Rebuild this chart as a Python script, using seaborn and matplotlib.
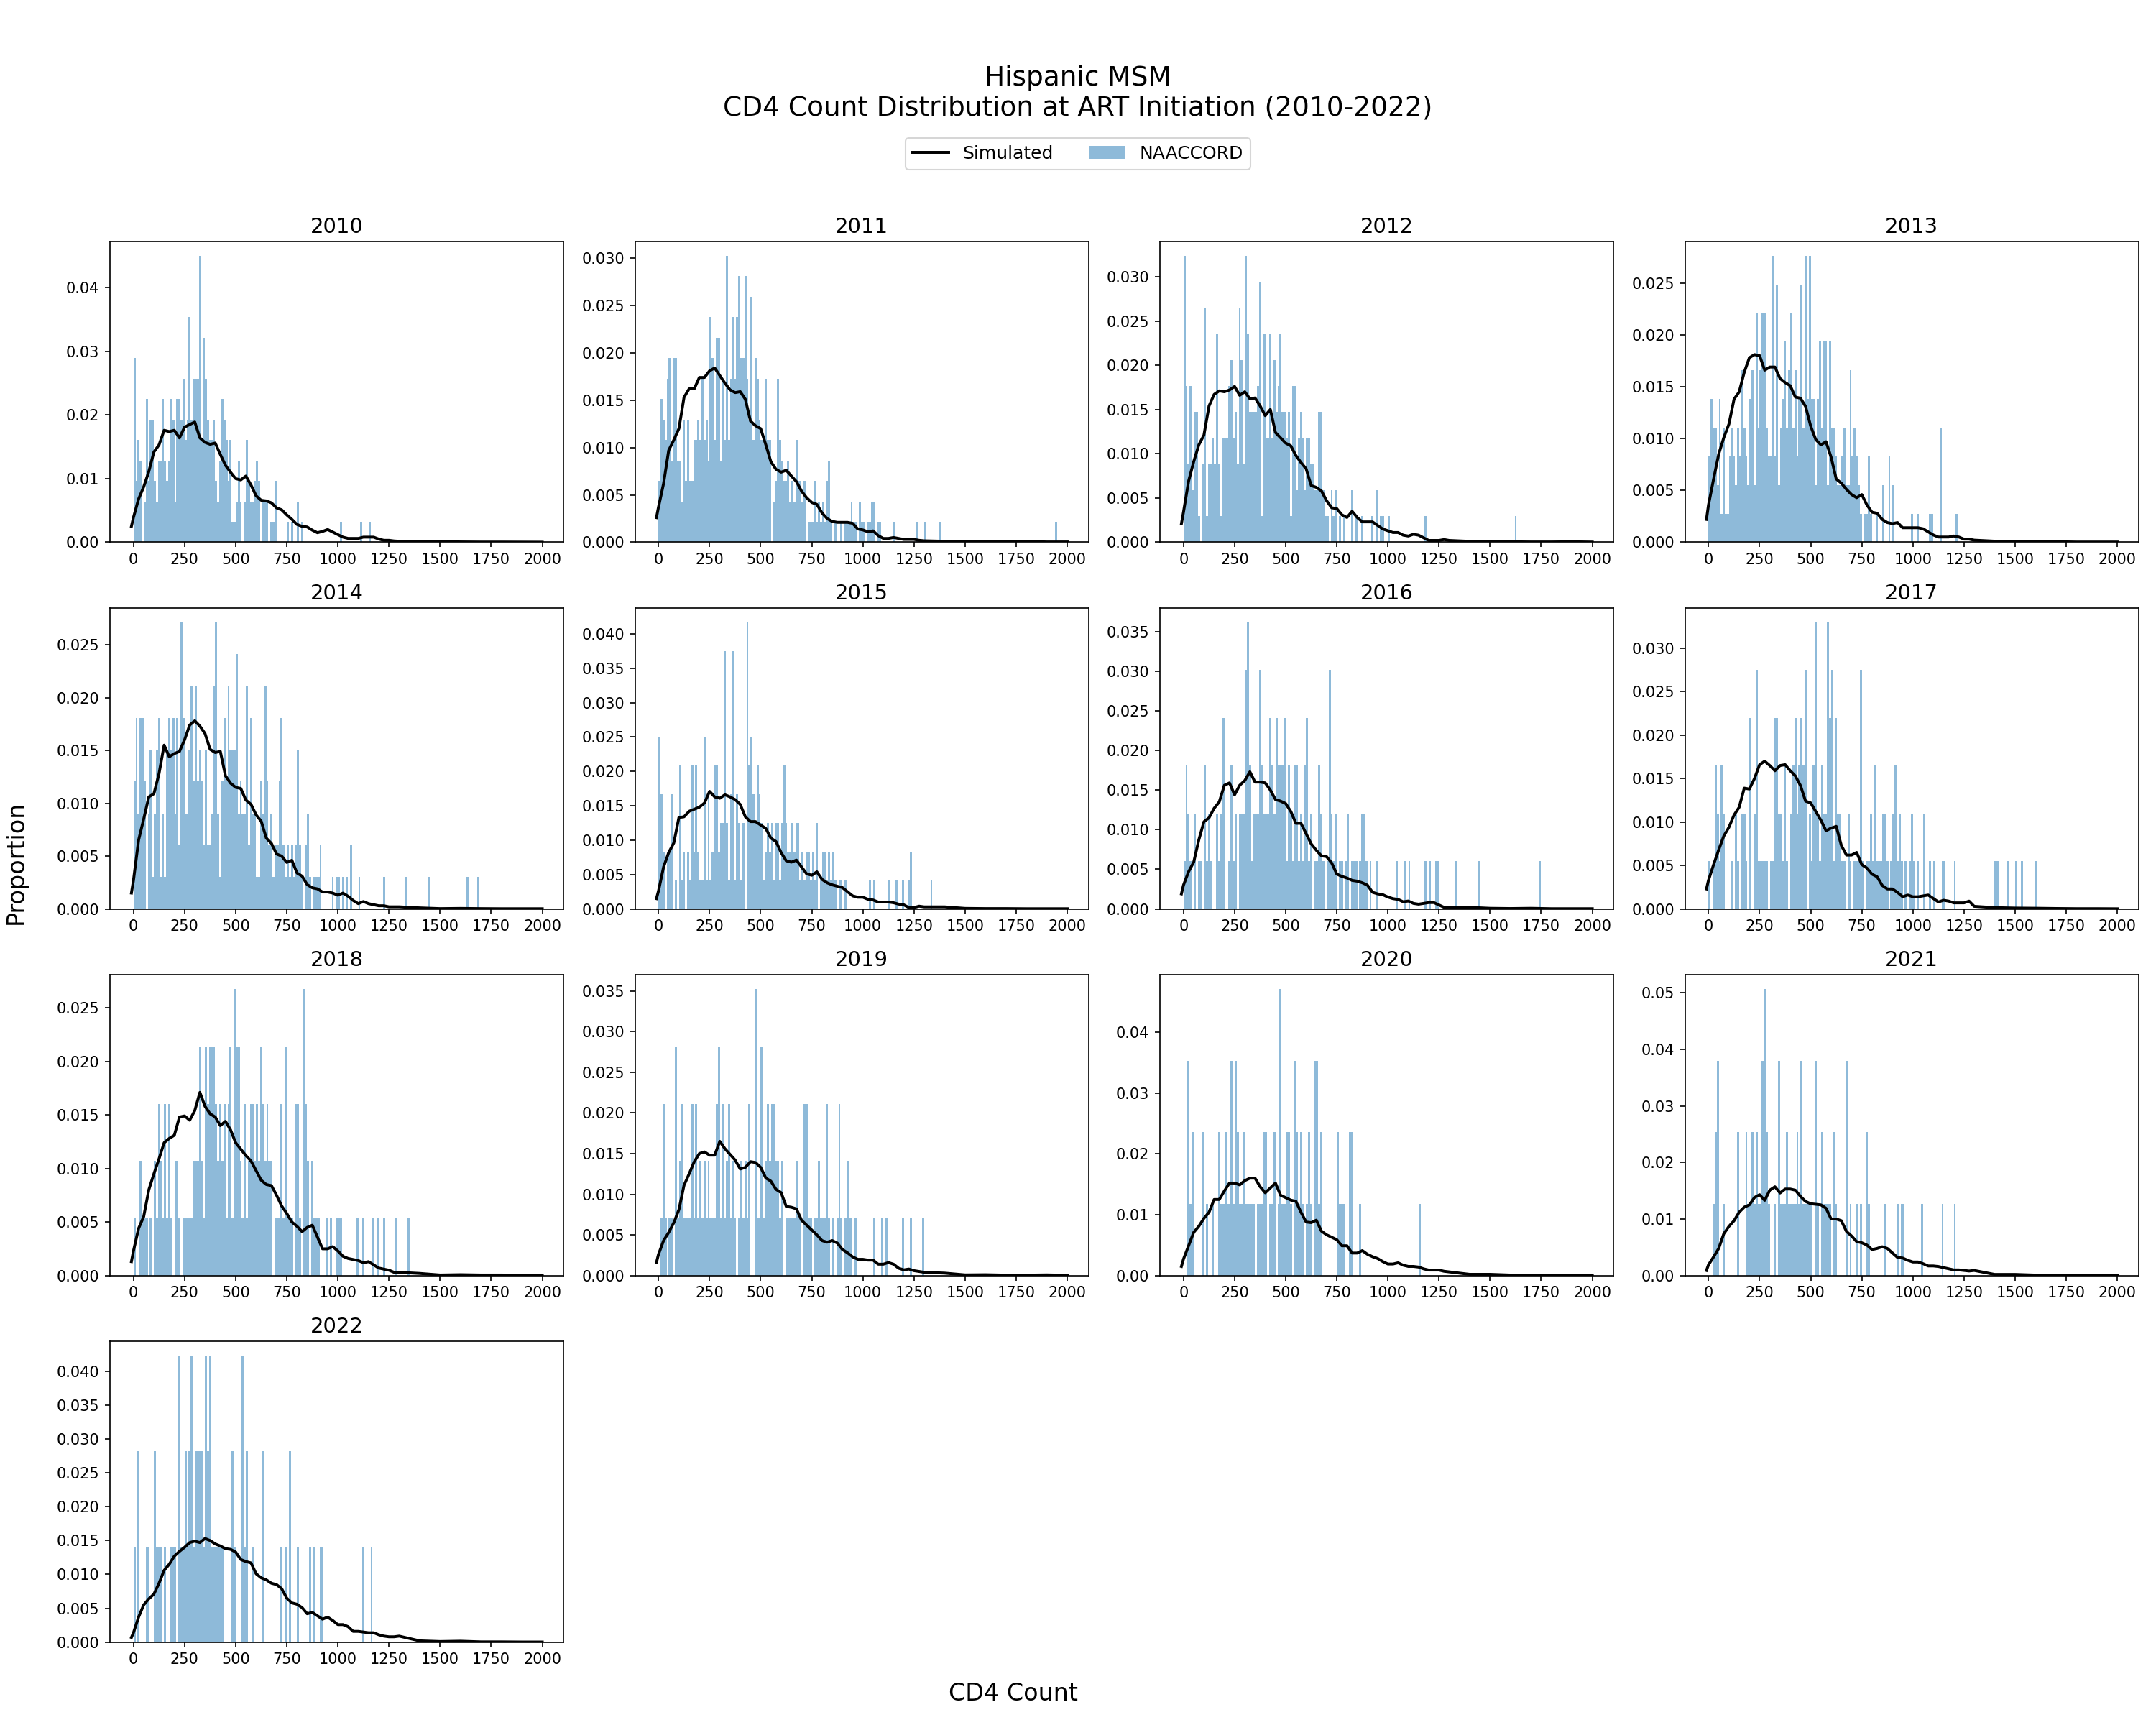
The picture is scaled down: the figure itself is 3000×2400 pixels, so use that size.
import numpy as np
import pandas as pd
import matplotlib
matplotlib.use("Agg")
import matplotlib.pyplot as plt
import seaborn as sns
from matplotlib.lines import Line2D
from matplotlib.patches import Patch

years = [2010, 2011, 2012, 2013, 2014, 2015, 2016, 2017, 2018, 2019, 2020, 2021, 2022]

# NAACCORD: patients per 10-cell CD4 bin (bin k covers 10k..10k+10)
naaccord_n = {2010: 311, 2011: 463, 2012: 340, 2013: 362, 2014: 332, 2015: 240, 2016: 166,
              2017: 182, 2018: 187, 2019: 142, 2020: 85, 2021: 79, 2022: 71}

naaccord_counts = {
    2010: [9, 3, 5, 4, 0, 2, 7, 3, 6, 6, 3, 2, 4, 4, 7, 4, 3, 4, 7, 6,
           2, 7, 7, 6, 8, 5, 6, 11, 6, 8, 8, 8, 14, 5, 10, 8, 6, 5, 5, 6,
           3, 2, 4, 7, 6, 5, 3, 5, 1, 1, 2, 4, 2, 0, 2, 5, 3, 2, 2, 3,
           4, 3, 0, 2, 2, 2, 0, 1, 1, 3],
    2011: [3, 7, 6, 5, 8, 9, 4, 9, 9, 4, 4, 2, 6, 3, 6, 3, 3, 5, 5, 6,
           5, 8, 5, 6, 4, 11, 9, 5, 10, 10, 4, 8, 5, 14, 5, 8, 11, 8, 11, 13,
           9, 9, 13, 8, 6, 12, 5, 9, 8, 6, 5, 5, 8, 5, 5, 0, 2, 3, 8, 5,
           4, 3, 3, 4, 2, 3, 2, 5, 3, 3, 2, 3, 0, 1, 1, 1, 3, 1, 2, 1,
           2, 1, 3, 4, 1, 0, 1, 0, 0, 1, 0, 1, 1, 1, 2, 1, 1, 0, 2, 1,
           1, 0, 1, 1, 2, 2, 0, 1],
    2012: [11, 6, 3, 6, 2, 5, 5, 1, 0, 3, 9, 1, 3, 3, 4, 3, 8, 3, 1, 4,
           4, 4, 6, 7, 4, 5, 3, 9, 7, 3, 11, 8, 5, 5, 5, 5, 6, 10, 1, 8,
           4, 4, 8, 4, 7, 5, 6, 8, 5, 5, 4, 5, 1, 6, 6, 2, 4, 5, 4, 2,
           4, 4, 3, 3, 2, 2, 5, 5, 2, 1, 1],
    2013: [3, 5, 4, 4, 2, 5, 1, 4, 1, 1, 3, 4, 3, 2, 4, 3, 6, 4, 3, 2,
           5, 6, 2, 8, 4, 6, 8, 8, 4, 3, 3, 10, 3, 9, 2, 4, 5, 7, 4, 6,
           8, 4, 6, 3, 5, 9, 4, 10, 5, 10, 5, 5, 2, 5, 7, 4, 7, 7, 2, 7,
           4, 4, 3, 2, 2, 3, 4, 2, 2, 6, 3, 4, 3, 2, 1, 0, 1, 1, 3, 1],
    2014: [4, 6, 3, 6, 6, 4, 0, 3, 5, 1, 3, 5, 6, 1, 3, 1, 5, 6, 5, 6,
           3, 6, 2, 9, 6, 3, 3, 5, 7, 4, 7, 4, 5, 4, 2, 5, 2, 2, 3, 7,
           9, 3, 1, 4, 6, 4, 7, 5, 5, 5, 8, 3, 4, 3, 3, 7, 2, 6, 3, 3,
           1, 1, 4, 3, 7, 4, 2, 3, 1, 2, 2, 4, 6, 2, 1, 2, 1, 2, 1, 2,
           5, 2, 1, 0, 2, 3, 1, 0, 1, 1, 1, 2],
    2015: [6, 4, 2, 0, 2, 2, 4, 0, 1, 0, 5, 1, 2, 0, 2, 1, 5, 2, 5, 2,
           1, 1, 6, 1, 4, 1, 2, 5, 5, 2, 3, 3, 9, 3, 1, 4, 9, 1, 4, 3,
           1, 3, 0, 10, 5, 6, 4, 3, 5, 4, 3, 1, 2, 3, 2, 3, 1, 3, 3, 1,
           3, 5, 3, 2, 2, 3, 2, 3, 3, 1, 2, 1, 2, 2, 1, 2, 1, 3, 0, 1,
           2, 2, 1, 2, 1, 2, 1, 0, 1, 1, 0, 1],
    2016: [1, 3, 2, 1, 0, 2, 0, 1, 1, 0, 3, 1, 2, 1, 0, 0, 2, 1, 2, 4,
           0, 0, 1, 3, 1, 2, 0, 2, 2, 2, 5, 6, 3, 1, 2, 2, 2, 5, 3, 2,
           2, 2, 4, 3, 2, 4, 3, 3, 3, 4, 1, 3, 2, 1, 3, 3, 1, 2, 1, 3,
           4, 1, 2, 0, 1, 1, 3, 2, 1, 0, 1, 5, 2, 1, 2, 0, 1, 1, 0, 1,
           2, 0, 1, 1, 1, 0, 1, 2, 2, 1],
    2017: [1, 0, 1, 3, 2, 1, 3, 2, 0, 0, 0, 1, 0, 2, 1, 0, 2, 2, 1, 0,
           4, 0, 2, 5, 1, 1, 1, 1, 1, 0, 1, 1, 4, 4, 2, 2, 1, 3, 1, 0,
           2, 3, 4, 2, 3, 4, 3, 5, 0, 2, 1, 3, 6, 2, 1, 3, 2, 2, 6, 4,
           5, 1, 4, 2, 2, 1, 1, 0, 2, 1, 0, 1, 1, 1, 5, 1, 0, 1, 1, 2,
           1, 3, 1, 1, 1, 2, 2, 1, 0, 1, 2, 3, 1, 2, 1, 0, 1, 0, 1, 2,
           1, 0, 1, 0, 0, 2],
    2018: [1, 0, 0, 2, 1, 1, 1, 0, 1, 0, 2, 1, 3, 2, 1, 3, 1, 3, 1, 0,
           2, 2, 1, 0, 1, 1, 1, 1, 1, 2, 2, 2, 4, 2, 1, 4, 3, 4, 4, 4,
           3, 2, 3, 2, 3, 1, 3, 4, 1, 5, 4, 4, 2, 1, 3, 1, 2, 3, 3, 2,
           3, 2, 4, 3, 2, 3, 2, 2, 0, 1, 1, 1, 3, 1, 4, 1, 1, 1, 0, 3,
           3, 1, 0, 5, 3, 2, 0, 2, 1, 1, 1],
    2019: [0, 1, 3, 1, 0, 1, 1, 0, 4, 1, 2, 3, 1, 1, 1, 1, 3, 1, 3, 1,
           2, 1, 2, 1, 2, 1, 1, 1, 3, 4, 1, 3, 1, 2, 3, 1, 2, 1, 0, 1,
           2, 1, 2, 1, 3, 0, 0, 5, 1, 1, 4, 1, 2, 3, 2, 3, 3, 2, 2, 1,
           2, 0, 1, 1, 1, 1, 1, 2, 1, 1, 0, 3, 3, 1, 1, 0, 1, 1, 2, 1,
           1, 1, 3, 1, 0, 1, 0, 1, 3, 1, 0, 1, 2, 1, 1],
    2020: [0, 0, 3, 1, 2, 0, 0, 0, 0, 2, 0, 1, 0, 0, 1, 0, 0, 2, 1, 1,
           2, 1, 1, 3, 1, 3, 2, 1, 1, 2, 1, 1, 1, 1, 1, 0, 1, 1, 1, 2,
           2, 0, 1, 1, 2, 0, 1, 4, 1, 1, 2, 2, 1, 0, 3, 2, 1, 2, 1, 0,
           1, 2, 1, 0, 3, 3, 1, 2, 0, 0, 0, 0, 0, 0, 0, 2, 1, 1, 1, 0,
           0, 2, 2, 0, 0, 0, 1],
    2021: [0, 0, 1, 2, 3, 0, 0, 1, 0, 0, 0, 0, 0, 0, 2, 0, 0, 0, 2, 1,
           1, 2, 1, 2, 1, 1, 3, 4, 2, 1, 0, 0, 1, 0, 3, 1, 1, 1, 2, 1,
           1, 1, 1, 2, 1, 3, 1, 1, 1, 1, 1, 0, 3, 1, 0, 2, 1, 1, 1, 1,
           0, 2, 1, 0, 0, 0, 0, 3, 0, 1, 0, 0, 1, 0, 1, 0, 0, 2, 1, 0,
           0, 0, 0, 0, 0, 0, 1],
    2022: [1, 0, 2, 0, 0, 0, 1, 1, 0, 0, 2, 1, 1, 1, 0, 1, 0, 0, 1, 1,
           1, 0, 3, 1, 1, 2, 1, 2, 3, 1, 2, 2, 2, 2, 1, 3, 2, 3, 1, 1,
           1, 1, 1, 1, 0, 0, 0, 0, 2, 1, 0, 0, 0, 3, 1, 2, 0, 0, 1, 0,
           0, 0, 0, 2, 0, 0, 0, 0, 0, 0, 0, 0, 1, 0, 1, 0, 2, 0, 0, 0,
           1, 0, 0, 0, 0, 0, 1, 0, 1, 0, 0, 1, 1],
}

# isolated single-patient bars further out (bin index, one entry per patient)
naaccord_tail = {
    2010: [75, 77, 80, 80, 82, 101, 111, 115],
    2011: [108, 115, 126, 130, 137, 194],
    2012: [72, 72, 73, 74, 74, 76, 78, 82, 82, 84, 87, 92, 94, 94, 96, 97, 100, 118, 162],
    2013: [82, 85, 85, 88, 88, 88, 90, 90, 99, 102, 108, 109, 113, 113, 113, 113, 121],
    2014: [97, 99, 100, 102, 104, 106, 106, 110, 122, 133, 144, 163, 168],
    2015: [103, 105, 112, 116, 119, 122, 123, 123, 133],
    2016: [91, 94, 104, 108, 110, 118, 120, 123, 124, 133, 144, 174],
    2017: [108, 110, 114, 115, 120, 140, 141, 146, 150, 153, 160],
    2018: [94, 96, 99, 100, 101, 109, 112, 117, 119, 122, 128, 134],
    2019: [96, 105, 109, 111, 119, 123, 129],
    2020: [115],
    2021: [92, 94, 95, 104, 114, 120],
    2022: [112, 116],
}

# Simulated curve, read at these CD4 values
sim_x = [-10, 0,
         25, 50, 75, 100, 125, 150, 175, 200, 225, 250, 275, 300,
         325, 350, 375, 400, 425, 450, 475, 500, 525, 550, 575, 600,
         625, 650, 675, 700, 725, 750, 775, 800, 825, 850, 875, 900,
         925, 950, 975, 1000, 1025, 1050, 1075, 1100, 1125, 1150, 1175, 1200,
         1225, 1250, 1275, 1300,
         1400, 1500, 1600, 1700, 1800, 1900, 2000]

sim_y = {
    2010: [0.0025, 0.0039,
           0.0068, 0.0087, 0.0111, 0.0142, 0.0153, 0.0176, 0.0174, 0.0176,
           0.0164, 0.0181, 0.0185, 0.0189, 0.0164, 0.0157, 0.0154, 0.0156,
           0.0138, 0.0121, 0.0110, 0.0100, 0.0098, 0.0104, 0.0090, 0.0073,
           0.0066, 0.0065, 0.0062, 0.0054, 0.0051, 0.0043, 0.0036, 0.0028,
           0.0025, 0.0024, 0.0019, 0.0015, 0.0017, 0.0020, 0.0016, 0.0012,
           0.0008, 0.0006, 0.0006, 0.0006, 0.0008, 0.0008, 0.0008, 0.0005,
           0.0003, 0.0003, 0.0002, 0.00015,
           0.0001, 0.0001, 0.00005, 0.00003, 0.00003, 0.00002, 0.00001],
    2011: [0.0026, 0.0037,
           0.0062, 0.0097, 0.0108, 0.0120, 0.0153, 0.0162, 0.0162, 0.0174,
           0.0174, 0.0181, 0.0184, 0.0176, 0.0168, 0.0161, 0.0158, 0.0159,
           0.0151, 0.0128, 0.0123, 0.0120, 0.0103, 0.0085, 0.0077, 0.0074,
           0.0076, 0.0070, 0.0064, 0.0054, 0.0047, 0.0042, 0.0040, 0.0031,
           0.0025, 0.0022, 0.0021, 0.0021, 0.0021, 0.0020, 0.0014, 0.0013,
           0.0011, 0.0012, 0.0007, 0.0004, 0.0004, 0.0005, 0.0004, 0.0003,
           0.0003, 0.0003, 0.0002, 0.00015,
           0.0001, 0.0001, 0.00005, 0.00005, 0.00008, 0.00003, 0.00003],
    2012: [0.0021, 0.0034,
           0.0069, 0.0091, 0.0110, 0.0121, 0.0154, 0.0167, 0.0171, 0.0170,
           0.0172, 0.0176, 0.0166, 0.0170, 0.0162, 0.0163, 0.0154, 0.0143,
           0.0150, 0.0124, 0.0118, 0.0112, 0.0109, 0.0098, 0.0090, 0.0083,
           0.0064, 0.0062, 0.0058, 0.0047, 0.0039, 0.0038, 0.0031, 0.0028,
           0.0035, 0.0028, 0.0023, 0.0023, 0.0023, 0.0019, 0.0015, 0.0013,
           0.0011, 0.0011, 0.0008, 0.0007, 0.0009, 0.0008, 0.0005, 0.0002,
           0.0002, 0.0002, 0.0003, 0.0002,
           0.0001, 0.00005, 0.00005, 0.00003, 0.00003, 0.00005, 0.00002],
    2013: [0.0022, 0.0036,
           0.0061, 0.0085, 0.0101, 0.0114, 0.0138, 0.0145, 0.0164, 0.0178,
           0.0181, 0.0180, 0.0166, 0.0169, 0.0169, 0.0158, 0.0154, 0.0151,
           0.0140, 0.0139, 0.0131, 0.0112, 0.0099, 0.0094, 0.0097, 0.0082,
           0.0061, 0.0057, 0.0051, 0.0046, 0.0043, 0.0046, 0.0036, 0.0029,
           0.0028, 0.0022, 0.0019, 0.0018, 0.0019, 0.0014, 0.0014, 0.0014,
           0.0014, 0.0013, 0.0010, 0.0007, 0.0005, 0.0005, 0.0005, 0.0006,
           0.0005, 0.0003, 0.0003, 0.0002,
           0.0001, 0.00005, 0.00005, 0.00005, 0.00002, 0.00002, 0.00002],
    2014: [0.0015, 0.0027,
           0.0065, 0.0085, 0.0106, 0.0109, 0.0128, 0.0155, 0.0144, 0.0147,
           0.0149, 0.0160, 0.0174, 0.0178, 0.0173, 0.0166, 0.0151, 0.0148,
           0.0149, 0.0126, 0.0119, 0.0115, 0.0114, 0.0103, 0.0099, 0.0089,
           0.0083, 0.0067, 0.0062, 0.0052, 0.0050, 0.0044, 0.0046, 0.0034,
           0.0031, 0.0023, 0.0020, 0.0019, 0.0016, 0.0016, 0.0015, 0.0013,
           0.0015, 0.0012, 0.0008, 0.0005, 0.0007, 0.0005, 0.0004, 0.0003,
           0.0003, 0.0002, 0.0002, 0.0002,
           0.0001, 0.00003, 0.00005, 0.00003, 0.00002, 0.00002, 0.00002],
    2015: [0.0015, 0.0026,
           0.0061, 0.0082, 0.0096, 0.0133, 0.0134, 0.0142, 0.0145, 0.0148,
           0.0154, 0.0171, 0.0163, 0.0161, 0.0166, 0.0163, 0.0159, 0.0152,
           0.0134, 0.0127, 0.0127, 0.0122, 0.0117, 0.0103, 0.0098, 0.0082,
           0.0070, 0.0068, 0.0071, 0.0061, 0.0051, 0.0049, 0.0054, 0.0043,
           0.0038, 0.0035, 0.0033, 0.0031, 0.0025, 0.0019, 0.0017, 0.0017,
           0.0014, 0.0013, 0.0010, 0.0010, 0.0010, 0.0009, 0.0007, 0.0006,
           0.0002, 0.0002, 0.0004, 0.0003,
           0.0003, 0.00008, 0.00005, 0.00005, 0.00003, 0.00003, 0.00003],
    2016: [0.0019, 0.0030,
           0.0047, 0.0059, 0.0087, 0.0110, 0.0115, 0.0127, 0.0135, 0.0156,
           0.0159, 0.0144, 0.0156, 0.0162, 0.0173, 0.0160, 0.0160, 0.0159,
           0.0150, 0.0138, 0.0136, 0.0133, 0.0123, 0.0108, 0.0108, 0.0095,
           0.0082, 0.0074, 0.0067, 0.0066, 0.0058, 0.0044, 0.0041, 0.0039,
           0.0036, 0.0035, 0.0033, 0.0030, 0.0021, 0.0019, 0.0018, 0.0015,
           0.0013, 0.0012, 0.0009, 0.0010, 0.0007, 0.0006, 0.0007, 0.0008,
           0.0008, 0.0005, 0.0002, 0.0002,
           0.0002, 0.00008, 0.00005, 0.00008, 0.00003, 0.00003, 0.00003],
    2017: [0.0023, 0.0033,
           0.0051, 0.0068, 0.0084, 0.0094, 0.0108, 0.0117, 0.0139, 0.0138,
           0.0150, 0.0166, 0.0170, 0.0165, 0.0159, 0.0165, 0.0166, 0.0159,
           0.0153, 0.0142, 0.0124, 0.0122, 0.0112, 0.0102, 0.0090, 0.0093,
           0.0095, 0.0073, 0.0062, 0.0062, 0.0065, 0.0051, 0.0047, 0.0040,
           0.0037, 0.0027, 0.0023, 0.0023, 0.0019, 0.0014, 0.0016, 0.0014,
           0.0014, 0.0015, 0.0016, 0.0012, 0.0008, 0.0010, 0.0009, 0.0007,
           0.0007, 0.0007, 0.0009, 0.0003,
           0.00015, 0.0001, 0.00008, 0.00005, 0.00003, 0.00003, 0.00002],
    2018: [0.0013, 0.0023,
           0.0044, 0.0055, 0.0080, 0.0095, 0.0109, 0.0124, 0.0128, 0.0131,
           0.0148, 0.0149, 0.0145, 0.0154, 0.0171, 0.0158, 0.0151, 0.0148,
           0.0140, 0.0144, 0.0136, 0.0124, 0.0118, 0.0112, 0.0107, 0.0098,
           0.0089, 0.0085, 0.0084, 0.0075, 0.0065, 0.0058, 0.0050, 0.0046,
           0.0041, 0.0045, 0.0047, 0.0036, 0.0025, 0.0025, 0.0027, 0.0023,
           0.0018, 0.0016, 0.0015, 0.0014, 0.0012, 0.0013, 0.0010, 0.0007,
           0.0006, 0.0005, 0.0003, 0.0003,
           0.0002, 0.00005, 0.00008, 0.00005, 0.00005, 0.00003, 0.00002],
    2019: [0.0016, 0.0026,
           0.0043, 0.0053, 0.0065, 0.0081, 0.0111, 0.0125, 0.0140, 0.0150,
           0.0152, 0.0148, 0.0148, 0.0165, 0.0156, 0.0149, 0.0142, 0.0131,
           0.0133, 0.0140, 0.0139, 0.0133, 0.0120, 0.0116, 0.0106, 0.0102,
           0.0085, 0.0084, 0.0082, 0.0068, 0.0062, 0.0056, 0.0050, 0.0043,
           0.0041, 0.0043, 0.0040, 0.0032, 0.0028, 0.0023, 0.0020, 0.0020,
           0.0019, 0.0019, 0.0014, 0.0014, 0.0016, 0.0014, 0.0009, 0.0007,
           0.0008, 0.0006, 0.0005, 0.0004,
           0.0003, 0.00008, 0.0001, 0.00005, 0.00005, 0.00008, 0.00003],
    2020: [0.0015, 0.0027,
           0.0049, 0.0071, 0.0081, 0.0094, 0.0104, 0.0125, 0.0125, 0.0139,
           0.0152, 0.0152, 0.0149, 0.0156, 0.0160, 0.0160, 0.0146, 0.0136,
           0.0144, 0.0152, 0.0132, 0.0128, 0.0124, 0.0122, 0.0104, 0.0088,
           0.0087, 0.0091, 0.0073, 0.0067, 0.0063, 0.0059, 0.0049, 0.0049,
           0.0037, 0.0037, 0.0041, 0.0035, 0.0031, 0.0028, 0.0023, 0.0019,
           0.0019, 0.0021, 0.0017, 0.0015, 0.0015, 0.0014, 0.0011, 0.0009,
           0.0009, 0.0009, 0.0007, 0.0006,
           0.0002, 0.0002, 0.00008, 0.00005, 0.00005, 0.00005, 0.00003],
    2021: [0.0009, 0.0019,
           0.0033, 0.0048, 0.0074, 0.0087, 0.0097, 0.0112, 0.0121, 0.0125,
           0.0138, 0.0143, 0.0133, 0.0151, 0.0157, 0.0146, 0.0153, 0.0153,
           0.0151, 0.0140, 0.0131, 0.0127, 0.0126, 0.0125, 0.0119, 0.0100,
           0.0100, 0.0097, 0.0078, 0.0070, 0.0060, 0.0058, 0.0054, 0.0046,
           0.0048, 0.0051, 0.0048, 0.0040, 0.0032, 0.0031, 0.0027, 0.0024,
           0.0024, 0.0021, 0.0017, 0.0017, 0.0016, 0.0014, 0.0012, 0.0010,
           0.0010, 0.0009, 0.0008, 0.0009,
           0.0002, 0.0002, 0.00008, 0.00005, 0.00003, 0.00005, 0.00003],
    2022: [0.0007, 0.0014,
           0.0037, 0.0055, 0.0064, 0.0071, 0.0087, 0.0106, 0.0115, 0.0127,
           0.0134, 0.0140, 0.0147, 0.0149, 0.0147, 0.0153, 0.0150, 0.0145,
           0.0142, 0.0138, 0.0137, 0.0133, 0.0122, 0.0119, 0.0117, 0.0101,
           0.0095, 0.0092, 0.0087, 0.0085, 0.0079, 0.0065, 0.0058, 0.0056,
           0.0051, 0.0042, 0.0044, 0.0039, 0.0034, 0.0037, 0.0032, 0.0026,
           0.0026, 0.0023, 0.0016, 0.0016, 0.0015, 0.0014, 0.0014, 0.0011,
           0.0009, 0.0008, 0.0008, 0.0009,
           0.0002, 0.0001, 0.00015, 0.00005, 0.00005, 0.00003, 0.00003],
}

bar_color = "#1f77b4"
n_bins = 200
centers = [10 * k + 5 for k in range(n_bins)]

fig, axes = plt.subplots(4, 4, figsize=(20, 16), dpi=150)
fig.subplots_adjust(left=0.051, right=0.992, top=0.86, bottom=0.048, wspace=0.157, hspace=0.219)

for ax, year in zip(axes.flat, years):
    counts = np.zeros(n_bins)
    body = naaccord_counts[year]
    counts[:len(body)] = body
    for k in naaccord_tail[year]:
        counts[k] += 1
    hist_df = pd.DataFrame({"cd4": centers, "prop": counts / naaccord_n[year]})
    sim_df = pd.DataFrame({"cd4": sim_x, "density": sim_y[year]})

    sns.histplot(data=hist_df, x="cd4", weights="prop", binwidth=10, binrange=(0, 2000),
                 color=bar_color, alpha=0.5, edgecolor="none", linewidth=0, ax=ax)
    sns.lineplot(data=sim_df, x="cd4", y="density", color="black", linewidth=1.9, ax=ax)

    ax.set_title(str(year), fontsize=14)
    ax.set_xlabel("")
    ax.set_ylabel("")
    ax.set_xticks(range(0, 2001, 250))
    ax.set_xlim(-115, 2105)

for ax in axes.flat[len(years):]:
    ax.remove()

fig.suptitle("Hispanic MSM\nCD4 Count Distribution at ART Initiation (2010-2022)", fontsize=18, y=0.962)
handles = [Line2D([0], [0], color="black", linewidth=1.9),
           Patch(facecolor=bar_color, alpha=0.5)]
fig.legend(handles, ["Simulated", "NAACCORD"], loc="center", bbox_to_anchor=(0.5, 0.911),
           ncol=2, fontsize=12)
fig.text(0.47, 0.018, "CD4 Count", ha="center", va="center", fontsize=16)
fig.text(0.0075, 0.5, "Proportion", ha="center", va="center", rotation=90, fontsize=16)

fig.savefig("out.png", dpi=150)
